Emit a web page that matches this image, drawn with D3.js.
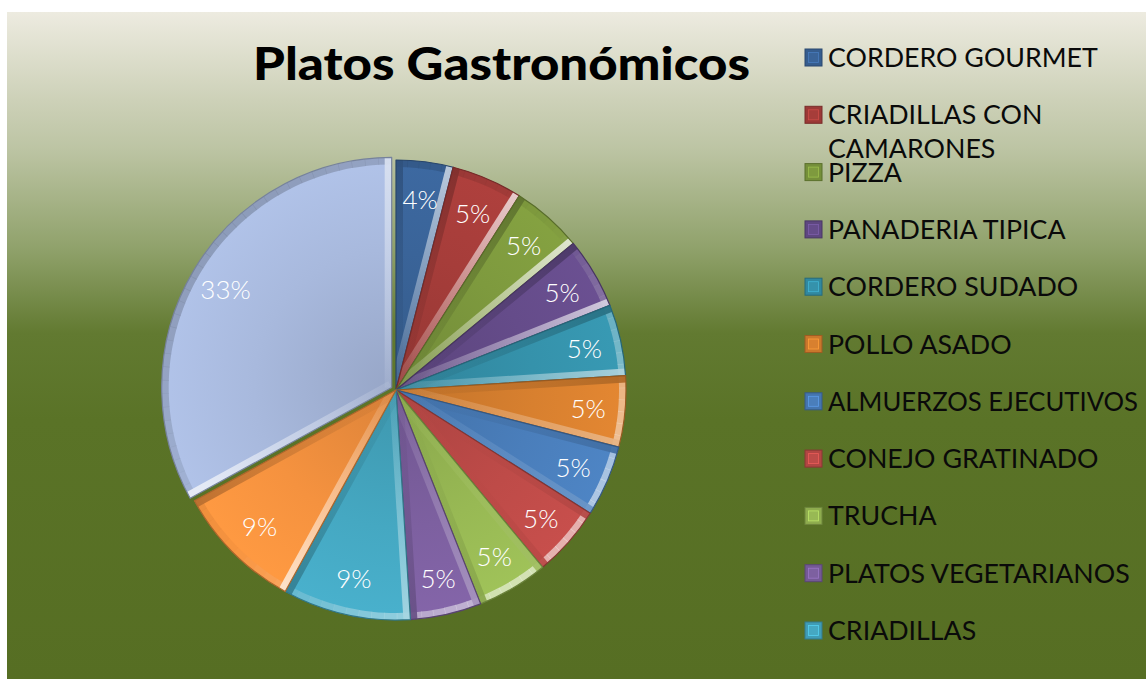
<!DOCTYPE html>
<html>
<head>
<meta charset="utf-8">
<script src="https://cdn.jsdelivr.net/npm/d3@7"></script>
<style>
  html, body { margin: 0; padding: 0; background: #ffffff; }
  svg { display: block; }
</style>
</head>
<body>
<svg id="chart" width="1146" height="679"></svg>
<script>
// ---- data ----
const title = "Platos Gastronómicos";
const categories = [
  "CORDERO GOURMET", "CRIADILLAS CON CAMARONES", "PIZZA", "PANADERIA TIPICA",
  "CORDERO SUDADO", "POLLO ASADO", "ALMUERZOS EJECUTIVOS", "CONEJO GRATINADO",
  "TRUCHA", "PLATOS VEGETARIANOS", "CRIADILLAS"
];
// 13 slices; the last two legend entries are cut off in the original
const values = [4, 5, 5, 5, 5, 5, 5, 5, 5, 5, 9, 9, 33];
const colors = [
  "#3A6499", "#A63D3A", "#7E9A3E", "#654C8A", "#3592AB", "#D8802F",
  "#4A7EBB", "#BE4B48", "#98B954", "#7D60A0", "#45A8C2", "#F5923F", "#A8B9DD"
];

// ---- layout ----
const svg = d3.select("#chart");
const W = 1146, H = 679;
const defs = svg.append("defs");

const bg = defs.append("linearGradient").attr("id", "bg")
  .attr("gradientUnits", "userSpaceOnUse")
  .attr("x1", 0).attr("y1", 12).attr("x2", 0).attr("y2", 679);
[[12, "#EDEBE0"], [100, "#CDD1B8"], [150, "#BCC4A3"], [250, "#8FA16A"],
 [333, "#627A31"], [420, "#5A7327"], [679, "#566E23"]].forEach(([y, c]) => {
  bg.append("stop").attr("offset", (y - 12) / (679 - 12)).attr("stop-color", c);
});
svg.append("rect").attr("x", 7).attr("y", 12).attr("width", W - 7).attr("height", H - 12)
  .attr("fill", "url(#bg)");

// title
svg.append("text").attr("x", 253).attr("y", 80)
  .attr("font-family", "Lato, 'Open Sans', sans-serif").attr("font-weight", 900)
  .attr("font-size", 45).attr("fill", "#000")
  .attr("textLength", 497).attr("lengthAdjust", "spacingAndGlyphs")
  .text(title);

// pie
const cx = 396, cy = 390, R = 230;
const pie = d3.pie().value(d => d).sort(null);
const arcs = pie(values);
const arcGen = d3.arc().innerRadius(0).outerRadius(R);
const labelArc = d3.arc().innerRadius(193).outerRadius(193);

const L = [0.7071, 0.7071];
function shade(c, d) {
  const base = d3.rgb(c);
  if (d > 0) return d3.interpolateRgb(base, "#ffffff")(Math.min(0.8, d * 0.8));
  return d3.interpolateRgb(base, "#000000")(Math.min(0.3, -d * 0.25));
}

const g = svg.append("g").attr("transform", `translate(${cx},${cy})`);
const explodeIdx = values.length - 1;
const bw = 7; // bevel half width

arcs.forEach((a, i) => {
  const col = colors[i % colors.length];
  let off = [0, 0];
  if (i === explodeIdx) {
    const m = (a.startAngle + a.endAngle) / 2;
    off = [Math.sin(m) * 5, -Math.cos(m) * 5];
  }
  const sg = g.append("g").attr("transform", `translate(${off[0]},${off[1]})`);
  const p = arcGen(a);
  const cid = "clip" + i;
  defs.append("clipPath").attr("id", cid).append("path").attr("d", p);

  const rg = defs.append("radialGradient").attr("id", "rg" + i)
    .attr("gradientUnits", "userSpaceOnUse").attr("cx", 0).attr("cy", 0).attr("r", R);
  rg.append("stop").attr("offset", 0).attr("stop-color", d3.rgb(col).darker(0.3));
  rg.append("stop").attr("offset", 0.6).attr("stop-color", col);
  rg.append("stop").attr("offset", 1).attr("stop-color", d3.rgb(col).brighter(0.15));
  sg.append("path").attr("d", p).attr("fill", `url(#rg${i})`);

  const bev = sg.append("g").attr("clip-path", `url(#${cid})`);

  const a0 = a.startAngle, a1 = a.endAngle;
  const n0 = [-Math.cos(a0), -Math.sin(a0)];
  const n1 = [Math.cos(a1), Math.sin(a1)];
  const dot = n => n[0] * L[0] + n[1] * L[1];
  const segs = Math.max(2, Math.ceil((a1 - a0) / 0.06));
  for (let k = 0; k < segs; k++) {
    const s0 = a0 + (a1 - a0) * k / segs, s1 = a0 + (a1 - a0) * (k + 1) / segs;
    const sm = (s0 + s1) / 2;
    const d = dot([Math.sin(sm), -Math.cos(sm)]);
    bev.append("path")
      .attr("d", d3.arc().innerRadius(R - bw).outerRadius(R + 1).startAngle(s0).endAngle(s1 + 0.003)())
      .attr("fill", shade(col, d)).attr("opacity", 0.7);
  }
  [[a0, n0], [a1, n1]].forEach(([ang, n], j) => {
    const d = dot(n);
    const ex = Math.sin(ang) * (R + 2), ey = -Math.cos(ang) * (R + 2);
    const gid = `eg${i}_${j}`;
    const eg = defs.append("linearGradient").attr("id", gid)
      .attr("gradientUnits", "userSpaceOnUse")
      .attr("x1", 0).attr("y1", 0).attr("x2", ex).attr("y2", ey);
    const c = shade(col, d);
    eg.append("stop").attr("offset", 0).attr("stop-color", c).attr("stop-opacity", 0.1);
    eg.append("stop").attr("offset", 0.6).attr("stop-color", c).attr("stop-opacity", 0.6);
    eg.append("stop").attr("offset", 1).attr("stop-color", c).attr("stop-opacity", 0.95);
    bev.append("line").attr("x1", 0).attr("y1", 0).attr("x2", ex).attr("y2", ey)
      .attr("stroke", `url(#${gid})`).attr("stroke-width", bw * 2);
  });
  sg.append("path").attr("d", p).attr("fill", "none")
    .attr("stroke", d3.rgb(col).darker(1)).attr("stroke-width", 1.2)
    .attr("stroke-linejoin", "round");

  const [lx, ly] = labelArc.centroid(a);
  sg.append("text").attr("x", lx).attr("y", ly)
    .attr("text-anchor", "middle").attr("dominant-baseline", "central")
    .attr("font-family", "Lato, 'Open Sans', sans-serif").attr("font-weight", 300)
    .attr("font-size", 26)
    .attr("fill", "#ffffff")
    .text(Math.round(a.value) + "%");
});

// legend
const lg = svg.append("g");
const lx0 = 828, ly0 = 67, lstep = 57.3, wrapW = 360, lineMax = 310;
const fontSize = 26;
const probe = lg.append("text").attr("font-family", "Lato, 'Open Sans', sans-serif")
  .attr("font-size", fontSize).text(categories[0]);
const kx = 270 / probe.node().getComputedTextLength();
probe.remove();

categories.forEach((name, i) => {
  const col = colors[i % colors.length];
  const by = ly0 + i * lstep;
  lg.append("rect").attr("x", 805).attr("y", by - 18).attr("width", 17).attr("height", 17)
    .attr("fill", d3.rgb(col).darker(0.2)).attr("stroke", d3.rgb(col).darker(0.9)).attr("stroke-width", 1);
  lg.append("rect").attr("x", 808.5).attr("y", by - 14.5).attr("width", 10).attr("height", 10)
    .attr("fill", col).attr("stroke", d3.rgb(col).brighter(0.6)).attr("stroke-width", 0.8);

  const t = lg.append("text")
    .attr("transform", `translate(${lx0},${by}) scale(${kx},1)`)
    .attr("font-family", "Lato, 'Open Sans', sans-serif").attr("font-size", fontSize)
    .attr("fill", "#0a0a0a");
  const words = name.split(" ");
  let line = [], lineNo = 0;
  const spans = [];
  let ts = t.append("tspan").attr("x", 0).attr("y", 0);
  spans.push(ts);
  words.forEach(w => {
    line.push(w);
    ts.text(line.join(" "));
    if (ts.node().getComputedTextLength() * kx > wrapW && line.length > 1) {
      line.pop();
      ts.text(line.join(" "));
      line = [w];
      lineNo++;
      ts = t.append("tspan").attr("x", 0).attr("y", lineNo * 34).text(w);
      spans.push(ts);
    }
  });
  spans.forEach(s => {
    const wpx = s.node().getComputedTextLength() * kx;
    if (wpx > lineMax) {
      s.attr("textLength", lineMax / kx).attr("lengthAdjust", "spacingAndGlyphs");
    }
  });
});
</script>
</body>
</html>
